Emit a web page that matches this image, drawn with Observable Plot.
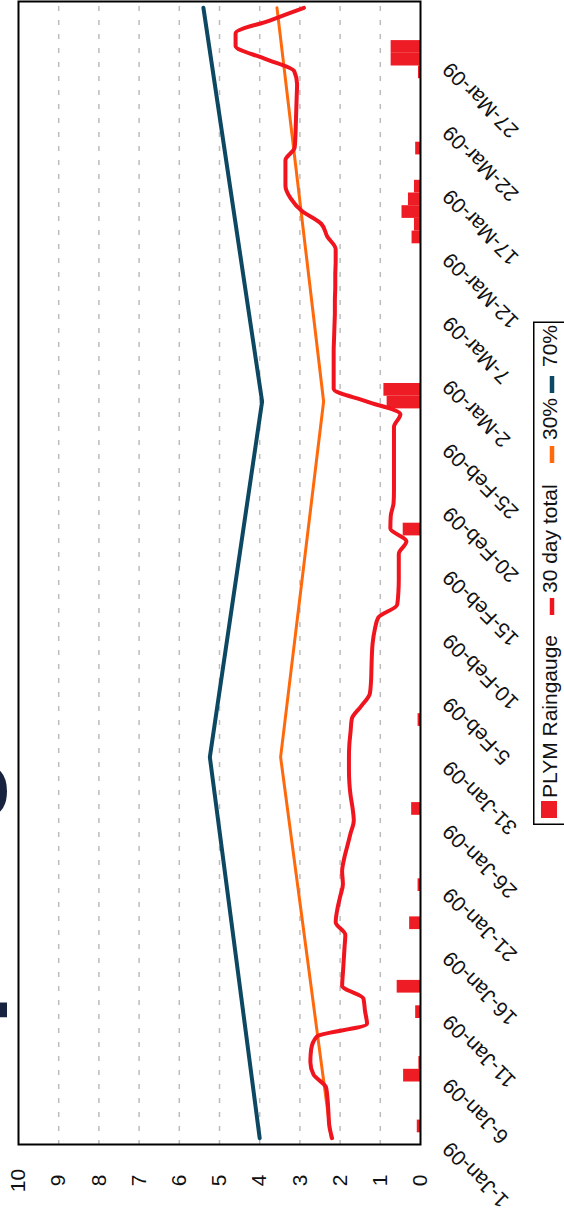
<!DOCTYPE html>
<html>
<head>
<meta charset="utf-8">
<script src="https://cdn.jsdelivr.net/npm/d3@7"></script>
<script src="https://cdn.jsdelivr.net/npm/@observablehq/plot@0.6"></script>
<style>
  html, body { margin: 0; padding: 0; background: #fff; width: 564px; height: 1211px; overflow: hidden; }
  #rot { position: absolute; left: 0; top: 1211px; width: 1211px; height: 564px;
         transform: rotate(-90deg); transform-origin: 0 0; overflow: hidden; background: #fff;
         font-family: "Liberation Sans", Arial, sans-serif; }
  #chart { position: absolute; left: 0; top: 0; }
  #title { position: absolute; left: 0; top: 0; }
  #legend { position: absolute; left: 386px; top: 533px; }
</style>
</head>
<body>
<div id="rot">
  <div id="chart"></div>
  <svg id="title" width="1211" height="24"></svg>
  <svg id="legend" width="504" height="40"></svg>
</div>
<script>
// ---- data (day index 0 = 1-Jan-09) ----
const titleText = "Spring rainfall 2009";
const totalDays = d3.range(90);
const total30 = [
  2.20, 2.27, 2.29, 2.31, 2.35, 2.66, 2.74, 2.72, 2.58, 1.33,
  1.38, 1.42, 1.95, 1.93, 1.91, 1.89, 1.87, 2.11, 2.07, 2.00,
  1.93, 1.95, 1.90, 1.82, 1.74, 1.66, 1.69, 1.74, 1.77, 1.78,
  1.78, 1.77, 1.74, 1.71, 1.48, 1.26, 1.23, 1.22, 1.21, 1.19,
  1.14, 1.05, 0.58, 0.55, 0.54, 0.54, 0.54, 0.35, 0.75, 0.74,
  0.67, 0.66, 0.66, 0.66, 0.66, 0.66, 0.66, 0.50, 1.33, 2.16,
  2.16, 2.16, 2.16, 2.15, 2.14, 2.13, 2.13, 2.12, 2.12, 2.11,
  2.11, 2.32, 2.47, 2.95, 3.23, 3.36, 3.36, 3.36, 3.13, 3.11,
  3.10, 3.09, 3.08, 3.07, 3.14, 3.88, 4.60, 4.60, 3.75, 2.90
];
const rainDays   = [1, 5, 6, 10, 12, 17, 20, 26, 33, 48, 58, 59, 71, 72, 73, 74, 75, 78, 84, 85, 86];
const rainValues = [0.08, 0.42, 0.04, 0.12, 0.58, 0.27, 0.06, 0.22, 0.06, 0.43, 0.83, 0.91, 0.21, 0.15, 0.46, 0.30, 0.15, 0.12, 0.05, 0.73, 0.73];
const pctDays = [0, 30, 58, 89];
const pct30 = [2.22, 3.48, 2.41, 3.57];
const pct70 = [4.00, 5.24, 3.94, 5.40];
const tickDays = [0, 5, 10, 15, 20, 25, 30, 35, 40, 45, 50, 55, 60, 65, 70, 75, 80, 85];
const tickLabels = ["1-Jan-09","6-Jan-09","11-Jan-09","16-Jan-09","21-Jan-09","26-Jan-09","31-Jan-09",
  "5-Feb-09","10-Feb-09","15-Feb-09","20-Feb-09","25-Feb-09","2-Mar-09","7-Mar-09","12-Mar-09",
  "17-Mar-09","22-Mar-09","27-Mar-09"];
const valueTicks = [0, 1, 2, 3, 4, 5, 6, 7, 8, 9, 10];
const seriesNames = ["PLYM Raingauge", "30 day total", "30%", "70%"];

// ---- derived tables ----
const rain = rainDays.map((d, i) => ({day: d, value: rainValues[i]}));
const total = totalDays.map((d, i) => ({day: d, value: total30[i]}));
const p30 = pctDays.map((d, i) => ({day: d, value: pct30[i]}));
const p70 = pctDays.map((d, i) => ({day: d, value: pct70[i]}));

const RED = "#ee1c24", LINE_RED = "#f0141e", ORANGE = "#ff690c", NAVY = "#0d4862";
const FONT = "Liberation Sans, Arial, sans-serif";

const chart = Plot.plot({
  width: 1211, height: 564,
  marginLeft: 66, marginRight: 2, marginTop: 18, marginBottom: 144,
  x: {type: "linear", domain: [-0.5, 89.5], axis: null},
  y: {domain: [0, 10], axis: null},
  style: {fontFamily: FONT, background: "transparent", overflow: "visible"},
  marks: [
    Plot.ruleY(valueTicks.filter(v => v > 0 && v < 10), {stroke: "#bcbcbc", strokeWidth: 1.5, strokeDasharray: "5,9"}),
    Plot.rect(rain, {x1: d => d.day - 0.5, x2: d => d.day + 0.5, y1: 0, y2: "value", fill: RED}),
    Plot.line(p70, {x: "day", y: "value", stroke: NAVY, strokeWidth: 4}),
    Plot.line(p30, {x: "day", y: "value", stroke: ORANGE, strokeWidth: 3}),
    Plot.line(total, {x: "day", y: "value", stroke: LINE_RED, strokeWidth: 4, curve: "monotone-x"}),
    Plot.frame({stroke: "#000", strokeWidth: 2}),
    Plot.text(valueTicks, {y: d => d, frameAnchor: "left", dx: -36, text: d => String(d),
      textAnchor: "middle", lineAnchor: "middle", fontSize: 21, fill: "#111"}),
    Plot.text(tickDays, {x: d => d, frameAnchor: "bottom", dx: -7, dy: 26, rotate: -45,
      text: (d, i) => tickLabels[i], textAnchor: "end", lineAnchor: "middle", fontSize: 21, fill: "#111"})
  ]
});
document.getElementById("chart").appendChild(chart);

// ---- title (mostly cut off above the picture) ----
const t = d3.select("#title");
t.append("text").attr("x", 115).attr("y", -15.5)
  .attr("font-family", FONT).attr("font-size", 107).attr("font-weight", "bold")
  .attr("fill", "#17233f").text(titleText);

// ---- legend ----
const lg = d3.select("#legend");
lg.append("rect").attr("x", 0.75).attr("y", 0.75).attr("width", 502).attr("height", 60)
  .attr("fill", "#fff").attr("stroke", "#000").attr("stroke-width", 1.5);
const items = [
  {kind: "square", color: RED, mx: 7, tx: 27},
  {kind: "line", color: LINE_RED, mx: 210, tx: 232},
  {kind: "line", color: ORANGE, mx: 362, tx: 385},
  {kind: "line", color: NAVY, mx: 432, tx: 458}
];
items.forEach((it, i) => {
  if (it.kind === "square") {
    lg.append("rect").attr("x", it.mx).attr("y", 8).attr("width", 17).attr("height", 16).attr("fill", it.color);
  } else {
    lg.append("line").attr("x1", it.mx).attr("x2", it.mx + 17).attr("y1", 19).attr("y2", 19)
      .attr("stroke", it.color).attr("stroke-width", 4.5);
  }
  lg.append("text").attr("x", it.tx).attr("y", 24).attr("font-family", FONT).attr("font-size", 21)
    .attr("fill", "#111").text(seriesNames[i]);
});
</script>
</body>
</html>
